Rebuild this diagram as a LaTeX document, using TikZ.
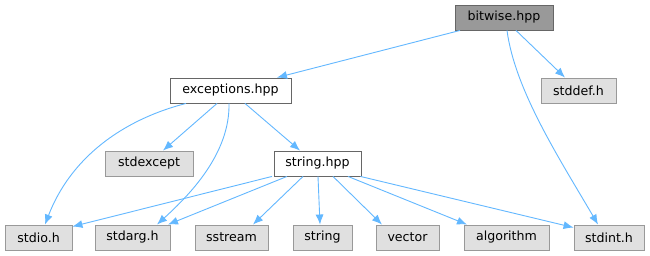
\documentclass[tikz,border=0pt]{standalone}
\usepackage{fontspec}
\setmainfont{DejaVu Sans}
\usetikzlibrary{arrows.meta}
\definecolor{edgeblue}{HTML}{63B8FF}
\definecolor{darkborder}{HTML}{666666}
\definecolor{lightborder}{HTML}{999999}
\definecolor{lightfill}{HTML}{E0E0E0}
\definecolor{mainfill}{HTML}{999999}
\tikzset{
  box/.style={draw, line width=0.9pt, minimum height=25pt, inner sep=0pt,
    font=\fontsize{12.6}{15}\selectfont, anchor=center},
  mainbox/.style={box, draw=darkborder, fill=mainfill},
  filebox/.style={box, draw=darkborder, fill=white},
  sysbox/.style={box, draw=lightborder, fill=lightfill},
  dep/.style={draw=edgeblue, line width=0.9pt, -{Latex[length=10pt,width=8pt]}, edgeblue},
}
\begin{document}
\begin{tikzpicture}[x=1pt,y=-1pt]
\useasboundingbox[fill=white] (0,0) rectangle (650,256);
\node[mainbox, minimum width=98pt] (bitwise) at (504,17.5) {bitwise.hpp};
\node[filebox, minimum width=121pt] (exceptions) at (230.5,90.5) {exceptions.hpp};
\node[sysbox, minimum width=75pt] (stddef) at (578.5,90.5) {stddef.h};
\node[sysbox, minimum width=88pt] (stdexcept) at (149,163.5) {stdexcept};
\node[filebox, minimum width=87pt] (stringhpp) at (317.5,163.5) {string.hpp};
\node[sysbox, minimum width=67pt] (stdio) at (38.5,237.5) {stdio.h};
\node[sysbox, minimum width=75pt] (stdarg) at (132.5,237.5) {stdarg.h};
\node[sysbox, minimum width=73pt] (sstream) at (231.5,237.5) {sstream};
\node[sysbox, minimum width=59pt] (string) at (322.5,237.5) {string};
\node[sysbox, minimum width=63pt] (vector) at (407.5,237.5) {vector};
\node[sysbox, minimum width=85pt] (algorithm) at (506.5,237.5) {algorithm};
\node[sysbox, minimum width=70pt] (stdint) at (609,237.5) {stdint.h};

% bitwise.hpp
\draw[dep] ([xshift=-44pt]bitwise.south) -- ([xshift=46.5pt]exceptions.north);
\draw[dep] ([xshift=12pt]bitwise.south) -- ([xshift=-13.5pt]stddef.north);
\draw[dep] ([xshift=3pt]bitwise.south) .. controls +(8pt,-60pt) and +(-38pt,65pt) .. ([xshift=-11pt]stdint.north);

% exceptions.hpp
\draw[dep] ([xshift=-44.5pt]exceptions.south) .. controls +(-66pt,-17pt) and +(25pt,65pt) .. ([xshift=6.5pt]stdio.north);
\draw[dep] ([xshift=-13.5pt]exceptions.south) -- ([xshift=14pt]stdexcept.north);
\draw[dep] ([xshift=-1.5pt]exceptions.south) .. controls +(1pt,-50pt) and +(33pt,30pt) .. ([xshift=24.5pt]stdarg.north);
\draw[dep] ([xshift=14.5pt]exceptions.south) -- ([xshift=-17.5pt]stringhpp.north);

% string.hpp
\draw[dep] ([xshift=-45.5pt]stringhpp.south) -- ([yshift=-2pt]stdio.north east);
\draw[dep] ([xshift=-30.5pt]stringhpp.south) -- ([xshift=35.5pt]stdarg.north);
\draw[dep] ([xshift=-14.5pt]stringhpp.south) -- ([xshift=21.5pt]sstream.north);
\draw[dep] ([xshift=0.5pt]stringhpp.south) -- ([xshift=-2.5pt]string.north);
\draw[dep] ([xshift=15.5pt]stringhpp.south) -- ([xshift=-25.5pt]vector.north);
\draw[dep] ([xshift=30.5pt]stringhpp.south) -- ([xshift=-39.5pt]algorithm.north);
\draw[dep] ([xshift=-1pt]stringhpp.south east) -- ([yshift=-3pt]stdint.north west);
\end{tikzpicture}
\end{document}
